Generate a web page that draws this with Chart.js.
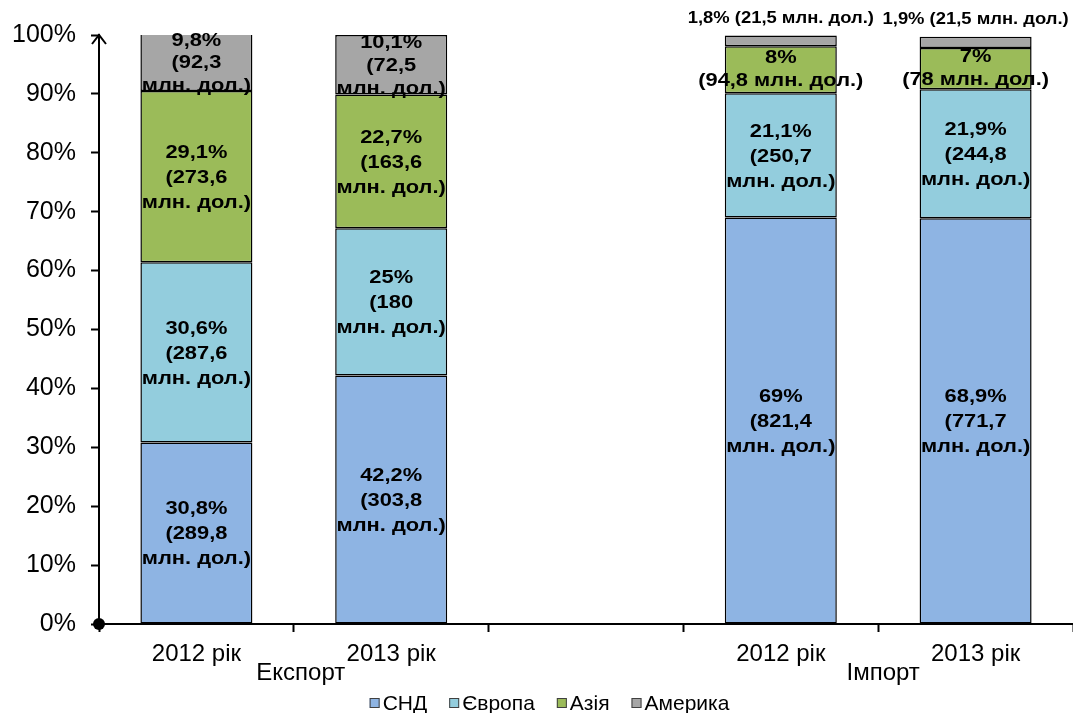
<!DOCTYPE html>
<html>
<head>
<meta charset="utf-8">
<script src="https://cdn.jsdelivr.net/npm/chart.js@4.4.1/dist/chart.umd.min.js"></script>
<style>
  body { margin: 0; background: #fff; }
  #wrap { width: 1073px; height: 713px; }
</style>
</head>
<body>
<div id="wrap"><canvas id="chart" width="1073" height="713"></canvas></div>
<script>
// Data
const categories = ['2012 рік', '2013 рік', '', '2012 рік', '2013 рік'];
const groupNames = ['Експорт', 'Імпорт'];
const seriesNames = ['СНД', 'Європа', 'Азія', 'Америка'];

const cisPct = [30.8, 42.2, null, 69, 68.9];
const cisMln = [289.8, 303.8, null, 821.4, 771.7];
const europePct = [30.6, 25, null, 21.1, 21.9];
const europeMln = [287.6, 180, null, 250.7, 244.8];
const asiaPct = [29.1, 22.7, null, 8, 7];
const asiaMln = [273.6, 163.6, null, 94.8, 78];
const americaPct = [9.8, 10.1, null, 1.8, 1.9];
const americaMln = [92.3, 72.5, null, 21.5, 21.5];

const yTicks = [0, 10, 20, 30, 40, 50, 60, 70, 80, 90, 100];

const colors = ['#8EB4E3', '#93CDDD', '#9BBB59', '#A6A6A6'];
const FONT = 'Arial, "Liberation Sans", sans-serif';

function fmt(n) {
    return String(n).replace('.', ',');
}

function makeSet(i, pct, mln) {
    return {
        label: seriesNames[i],
        data: pct,
        mln: mln,
        backgroundColor: colors[i],
        borderColor: '#000',
        borderWidth: 1.5,
        borderSkipped: false,
        barPercentage: 0.575,
        categoryPercentage: 1
    };
}

// labels inside / above the segments
const barLabels = {
    id: 'barLabels',
    afterDatasetsDraw(chart) {
        const ctx = chart.ctx;
        ctx.save();
        ctx.fillStyle = '#000';
        ctx.textAlign = 'center';
        ctx.textBaseline = 'middle';
        chart.data.datasets.forEach((ds, di) => {
            const meta = chart.getDatasetMeta(di);
            meta.data.forEach((bar, i) => {
                const v = ds.data[i];
                if (v == null) return;
                const p = bar.getProps(['x', 'y', 'base'], true);
                const top = Math.max(p.y, chart.chartArea.top - 2);
                const h = p.base - top;
                const m = fmt(ds.mln[i]);
                let lines, lh, cy, size = 19;
                if (h >= 55) {
                    lines = [fmt(v) + '%', '(' + m, 'млн. дол.)'];
                    lh = Math.min(25, (h - 4) / 2.4);
                    cy = (top + p.base) / 2 + 1;
                } else if (h >= 25) {
                    lines = [fmt(v) + '%', '(' + m + ' млн. дол.)'];
                    lh = 23;
                    cy = (top + p.base) / 2;
                } else {
                    lines = [fmt(v) + '%' + ' (' + m + ' млн. дол.)'];
                    lh = 0;
                    size = 16;
                    cy = top - 17;
                }
                ctx.font = 'bold ' + size + 'px ' + FONT;
                const first = cy - (lines.length - 1) * lh / 2;
                lines.forEach((t, k) => {
                    ctx.save();
                    ctx.translate(p.x, first + k * lh);
                    ctx.scale(1.15, 1);
                    ctx.fillText(t, 0, 0);
                    ctx.restore();
                });
            });
        });
        ctx.restore();
    }
};

// axis arrow, origin dot, group names and legend
const decor = {
    id: 'decor',
    afterDraw(chart) {
        const ctx = chart.ctx;
        const area = chart.chartArea;
        const xs = chart.scales.x;
        ctx.save();
        ctx.strokeStyle = '#000';
        ctx.fillStyle = '#000';
        ctx.lineWidth = 2;
        ctx.beginPath();
        ctx.moveTo(area.left - 7, area.top + 9);
        ctx.lineTo(area.left, area.top);
        ctx.lineTo(area.left + 7, area.top + 9);
        ctx.stroke();
        ctx.beginPath();
        ctx.arc(area.left, area.bottom, 6, 0, Math.PI * 2);
        ctx.fill();

        // group names between the two years
        ctx.font = '24px ' + FONT;
        ctx.textAlign = 'center';
        ctx.textBaseline = 'middle';
        const gx = [
            (xs.getPixelForValue(0) + xs.getPixelForValue(1)) / 2 + 7,
            (xs.getPixelForValue(3) + xs.getPixelForValue(4)) / 2 + 5
        ];
        groupNames.forEach((g, i) => ctx.fillText(g, gx[i], 673));

        // legend
        ctx.font = '21px ' + FONT;
        ctx.textAlign = 'left';
        const box = 10, gap = 3, itemGap = 22;
        const widths = seriesNames.map(n => box + gap + ctx.measureText(n).width);
        const total = widths.reduce((a, b) => a + b, 0) + itemGap * (seriesNames.length - 1);
        let x = chart.width / 2 + 13 - total / 2;
        const ly = 703;
        seriesNames.forEach((n, i) => {
            ctx.fillStyle = colors[i];
            ctx.fillRect(x, ly - box / 2, box, box);
            ctx.strokeStyle = '#404040';
            ctx.lineWidth = 1;
            ctx.strokeRect(x + 0.5, ly - box / 2 + 0.5, box - 1, box - 1);
            ctx.fillStyle = '#000';
            ctx.fillText(n, x + box + gap, ly + 1);
            x += widths[i] + itemGap;
        });
        ctx.restore();
    }
};

new Chart(document.getElementById('chart'), {
    type: 'bar',
    data: {
        labels: categories,
        datasets: [
            makeSet(0, cisPct, cisMln),
            makeSet(1, europePct, europeMln),
            makeSet(2, asiaPct, asiaMln),
            makeSet(3, americaPct, americaMln)
        ]
    },
    options: {
        responsive: false,
        animation: false,
        layout: { padding: { top: 35, right: 0, bottom: 0, left: 0 } },
        plugins: {
            legend: { display: false },
            tooltip: { enabled: false }
        },
        scales: {
            x: {
                stacked: true,
                afterFit(scale) { scale.height = 89; },
                grid: {
                    offset: true,
                    drawOnChartArea: false,
                    drawTicks: true,
                    tickLength: 8,
                    tickWidth: 2,
                    tickColor: '#000'
                },
                border: { display: true, color: '#000', width: 2 },
                ticks: {
                    color: '#000',
                    font: { family: FONT, size: 24 },
                    padding: 8,
                    maxRotation: 0,
                    autoSkip: false
                }
            },
            y: {
                stacked: true,
                min: 0,
                max: 100,
                afterFit(scale) { scale.width = 99; },
                afterBuildTicks(scale) { scale.ticks = yTicks.map(v => ({ value: v })); },
                grid: {
                    drawOnChartArea: false,
                    drawTicks: true,
                    tickLength: 8,
                    tickWidth: 2,
                    tickColor: '#000'
                },
                border: { display: true, color: '#000', width: 2 },
                ticks: {
                    color: '#000',
                    font: { family: FONT, size: 25 },
                    padding: 15,
                    callback: v => v + '%'
                }
            }
        }
    },
    plugins: [barLabels, decor]
});
</script>
</body>
</html>
